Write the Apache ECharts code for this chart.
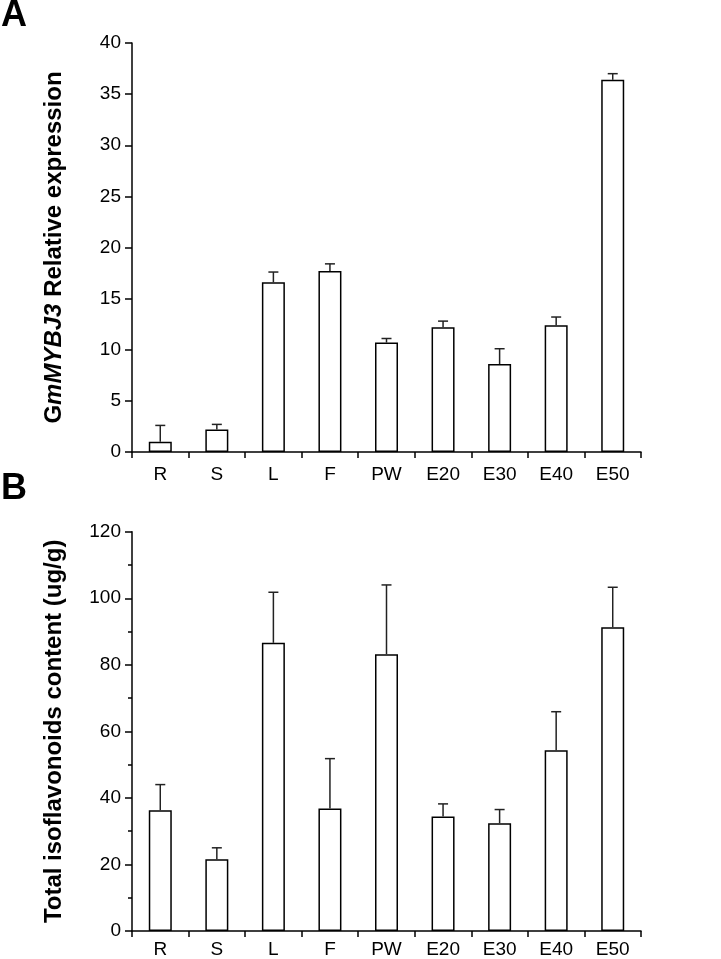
<!DOCTYPE html>
<html>
<head>
<meta charset="utf-8">
<script src="https://cdn.jsdelivr.net/npm/echarts@6/dist/echarts.min.js"></script>
<style>
html,body{margin:0;padding:0;background:#fff;}
#c{width:721px;height:959px;}
</style>
</head>
<body>
<div id="c"></div>
<script>
var categories = ['R','S','L','F','PW','E20','E30','E40','E50'];
var exprMean = [1.0, 2.2, 16.6, 17.7, 10.7, 12.2, 8.6, 12.4, 36.4];
var exprErr  = [1.6, 0.5, 1.0, 0.7, 0.4, 0.6, 1.5, 0.8, 0.6];
var isoMean  = [36.3, 21.6, 86.6, 36.8, 83.2, 34.4, 32.4, 54.3, 91.3];
var isoErr   = [7.7, 3.4, 15.2, 15.0, 20.8, 3.8, 4.1, 11.6, 12.0];
var exprTicks = [0, 40, 5];
var isoTicks = [0, 120, 20];

var FONT = 'Liberation Sans, Arial, sans-serif';

function errData(mean, err){
  return mean.map(function(v,i){ return [i, v, v+err[i]]; });
}
function errRender(params, api){
  var x = api.value(0), lo = api.value(1), hi = api.value(2);
  var p0 = api.coord([x, lo]);
  var p1 = api.coord([x, hi]);
  var cap = 5;
  return {
    type: 'group',
    children: [
      {type:'line', shape:{x1:p0[0], y1:p0[1], x2:p1[0], y2:p1[1]}, style:{stroke:'#222', lineWidth:1.5}},
      {type:'line', shape:{x1:p1[0]-cap, y1:p1[1], x2:p1[0]+cap, y2:p1[1]}, style:{stroke:'#222', lineWidth:1.5}}
    ]
  };
}

function xAx(gi, margin){
  return {
    type:'category', gridIndex:gi, data:categories,
    axisLine:{lineStyle:{color:'#000', width:1.5}},
    axisTick:{show:true, length:6, lineStyle:{color:'#000', width:1.5}},
    axisLabel:{color:'#000', fontSize:19, fontFamily:FONT, margin:margin}
  };
}
function yAx(gi, t, name, gap, minor){
  return {
    type:'value', gridIndex:gi, min:t[0], max:t[1], interval:t[2],
    name:name, nameLocation:'middle', nameGap:gap,
    nameTextStyle:{color:'#000', fontSize:24, fontWeight:'bold', fontFamily:FONT,
      rich:{
        n:{color:'#000', fontSize:24, fontWeight:'bold', fontFamily:FONT},
        i:{color:'#000', fontSize:24, fontWeight:'bold', fontStyle:'italic', fontFamily:FONT}
      }},
    splitLine:{show:false},
    axisLine:{show:true, lineStyle:{color:'#000', width:1.5}},
    axisTick:{show:true, length:7, lineStyle:{color:'#000', width:1.5}},
    minorTick:{show:minor, splitNumber:2, length:4, lineStyle:{color:'#000', width:1.5}},
    axisLabel:{color:'#000', fontSize:19, fontFamily:FONT, margin:11}
  };
}

var chart = echarts.init(document.getElementById('c'));
chart.setOption({
  animation:false,
  backgroundColor:'#fff',
  graphic:[
    {type:'text', left:1, top:-2, style:{text:'A', fontSize:36, fontWeight:'bold', fontFamily:FONT, fill:'#000'}},
    {type:'text', left:1, top:471, style:{text:'B', fontSize:36, fontWeight:'bold', fontFamily:FONT, fill:'#000'}}
  ],
  grid:[
    {left:132, width:509, top:43, height:409, outerBoundsMode:'none'},
    {left:132, width:509, top:531.7, height:399.3, outerBoundsMode:'none'}
  ],
  xAxis:[xAx(0, 13), xAx(1, 9)],
  yAxis:[
    yAx(0, exprTicks, '{n|G}{i|mMYBJ3}{n| Relative expression}', 66, false),
    yAx(1, isoTicks, 'Total isoflavonoids content (ug/g)', 66, true)
  ],
  series:[
    {type:'bar', xAxisIndex:0, yAxisIndex:0, data:exprMean, barWidth:23,
      itemStyle:{color:'#fff', borderColor:'#000', borderWidth:1.5}},
    {type:'custom', xAxisIndex:0, yAxisIndex:0, data:errData(exprMean, exprErr), renderItem:errRender, z:5},
    {type:'bar', xAxisIndex:1, yAxisIndex:1, data:isoMean, barWidth:23,
      itemStyle:{color:'#fff', borderColor:'#000', borderWidth:1.5}},
    {type:'custom', xAxisIndex:1, yAxisIndex:1, data:errData(isoMean, isoErr), renderItem:errRender, z:5}
  ]
});
</script>
</body>
</html>
